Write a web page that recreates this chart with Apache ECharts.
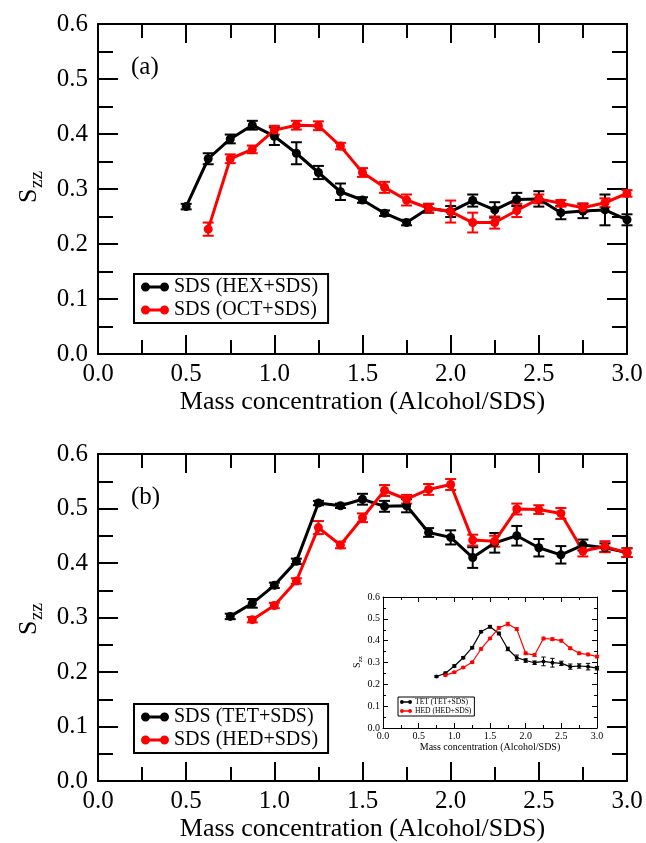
<!DOCTYPE html>
<html>
<head>
<meta charset="utf-8">
<script src="https://cdn.jsdelivr.net/npm/echarts@6/dist/echarts.min.js"></script>
<style>
html,body{margin:0;padding:0;background:#fff;}
#c{width:646px;height:843px;}
</style>
</head>
<body>
<div id="c"></div>
<script>
// ---------- axis ranges / ticks ----------
const X_MIN = 0, X_MAX = 3, X_STEP = 0.5;
const Y_MIN = 0, Y_MAX = 0.6, Y_STEP = 0.1;
const xTitle = 'Mass concentration (Alcohol/SDS)';

// ---------- panel (a) ----------
const xHex = [0.5,0.625,0.75,0.875,1.0,1.125,1.25,1.375,1.5,1.625,1.75,1.875,2.0,2.125,2.25,2.375,2.5,2.625,2.75,2.875,3.0];
const yHex = [0.268,0.355,0.391,0.416,0.396,0.365,0.330,0.295,0.280,0.256,0.239,0.265,0.259,0.279,0.262,0.281,0.282,0.257,0.260,0.262,0.244];
const eHex = [0.005,0.010,0.008,0.008,0.016,0.020,0.012,0.015,0.005,0.005,0.005,0.008,0.010,0.011,0.014,0.012,0.014,0.012,0.013,0.028,0.010];

const xOct = [0.625,0.75,0.875,1.0,1.125,1.25,1.375,1.5,1.625,1.75,1.875,2.0,2.125,2.25,2.375,2.5,2.625,2.75,2.875,3.0];
const yOct = [0.227,0.355,0.372,0.407,0.416,0.415,0.378,0.330,0.303,0.280,0.265,0.259,0.239,0.239,0.261,0.282,0.274,0.266,0.275,0.292];
const eOct = [0.012,0.008,0.007,0.008,0.008,0.008,0.006,0.008,0.010,0.010,0.008,0.020,0.018,0.011,0.012,0.008,0.006,0.008,0.008,0.006];

// ---------- panel (b) ----------
const xTet = [0.75,0.875,1.0,1.125,1.25,1.375,1.5,1.625,1.75,1.875,2.0,2.125,2.25,2.375,2.5,2.625,2.75,2.875,3.0];
const yTet = [0.302,0.326,0.359,0.403,0.510,0.505,0.517,0.504,0.505,0.456,0.447,0.410,0.437,0.450,0.428,0.415,0.433,0.428,0.419];
const eTet = [0.005,0.008,0.005,0.005,0.004,0.004,0.010,0.010,0.012,0.008,0.013,0.019,0.018,0.018,0.016,0.016,0.010,0.008,0.008];

const xHed = [0.875,1.0,1.125,1.25,1.375,1.5,1.625,1.75,1.875,2.0,2.125,2.25,2.375,2.5,2.625,2.75,2.875,3.0];
const yHed = [0.296,0.322,0.367,0.465,0.433,0.483,0.533,0.517,0.535,0.544,0.442,0.440,0.499,0.498,0.491,0.422,0.430,0.419];
const eHed = [0.005,0.005,0.005,0.012,0.006,0.008,0.010,0.008,0.010,0.010,0.010,0.010,0.010,0.008,0.010,0.010,0.010,0.008];

// ---------- inset ----------
const xTetIn = [0.75,0.875,1.0,1.125,1.25,1.375,1.5,1.625,1.75,1.875,2.0,2.125,2.25,2.375,2.5,2.625,2.75,2.875,3.0];
const yTetIn = [0.236,0.251,0.284,0.322,0.368,0.441,0.464,0.433,0.362,0.322,0.309,0.299,0.305,0.299,0.296,0.281,0.284,0.281,0.274];
const eTetIn = [0.004,0.005,0.005,0.005,0.005,0.005,0.006,0.006,0.008,0.012,0.008,0.008,0.020,0.020,0.010,0.012,0.010,0.015,0.008];

const xHedIn = [0.875,1.0,1.125,1.25,1.375,1.5,1.625,1.75,1.875,2.0,2.125,2.25,2.375,2.5,2.625,2.75,2.875,3.0];
const yHedIn = [0.242,0.255,0.277,0.301,0.362,0.410,0.459,0.476,0.453,0.342,0.334,0.410,0.407,0.400,0.365,0.342,0.337,0.327];
const eHedIn = [0.004,0.004,0.004,0.004,0.005,0.005,0.006,0.008,0.006,0.006,0.006,0.006,0.006,0.006,0.006,0.006,0.006,0.006];

// ---------- names ----------
const namesA = ['SDS (HEX+SDS)', 'SDS (OCT+SDS)'];
const namesB = ['SDS (TET+SDS)', 'SDS (HED+SDS)'];
const namesIn = ['TET (TET+SDS)', 'HED (HED+SDS)'];
const BLACK = '#000000', RED = '#ff0000';
const FONT = '"Liberation Serif","Times New Roman",serif';

const pts = (xs, ys) => xs.map((x, i) => [x, ys[i]]);
const errPts = (xs, ys, es) => xs.map((x, i) => [x, ys[i], es[i]]);

function errSeries(xi, xs, ys, es, color, cap, lw) {
  return {
    type: 'custom', xAxisIndex: xi, yAxisIndex: xi, silent: true,
    data: errPts(xs, ys, es), encode: {x: 0, y: 1},
    renderItem: function (params, api) {
      const x = api.value(0), y = api.value(1), e = api.value(2);
      const top = api.coord([x, y + e]), bot = api.coord([x, y - e]);
      const st = {stroke: color, lineWidth: lw};
      return {type: 'group', children: [
        {type: 'line', shape: {x1: top[0], y1: top[1], x2: bot[0], y2: bot[1]}, style: st},
        {type: 'line', shape: {x1: top[0] - cap, y1: top[1], x2: top[0] + cap, y2: top[1]}, style: st},
        {type: 'line', shape: {x1: bot[0] - cap, y1: bot[1], x2: bot[0] + cap, y2: bot[1]}, style: st}
      ]};
    }
  };
}
function lineSeries(name, xi, xs, ys, color, lw, sym) {
  return {
    name: name, type: 'line', xAxisIndex: xi, yAxisIndex: xi,
    data: pts(xs, ys), symbol: 'circle', symbolSize: sym, showSymbol: true,
    lineStyle: {color: color, width: lw}, itemStyle: {color: color},
    emphasis: {disabled: true}
  };
}

function xAxes(gi, big) {
  const common = {
    type: 'value', gridIndex: gi, min: X_MIN, max: X_MAX, interval: X_STEP,
    splitLine: {show: false},
    axisLine: {show: true, onZero: false, lineStyle: {color: '#000', width: big ? 2 : 1}},
    axisTick: {show: true, inside: true, length: big ? 19 : 5, lineStyle: {color: '#000', width: big ? 2 : 1}},
    minorTick: {show: true, splitNumber: 2, length: big ? 14 : 3, lineStyle: {color: '#000', width: big ? 2 : 1}},
  };
  return [
    Object.assign({}, common, {
      position: 'bottom',
      axisLabel: {show: true, fontFamily: FONT, fontSize: big ? 25 : 10, color: '#000', margin: big ? 8 : 3,
        formatter: v => v.toFixed(1)},
      name: xTitle, nameLocation: 'middle', nameGap: big ? 35 : 14,
      nameTextStyle: {fontFamily: FONT, fontSize: big ? 26 : 10, color: '#000'}
    }),
    Object.assign({}, common, {position: 'top', axisLabel: {show: false}})
  ];
}
function yAxes(gi, big) {
  const common = {
    type: 'value', gridIndex: gi, min: Y_MIN, max: Y_MAX, interval: Y_STEP,
    splitLine: {show: false},
    axisLine: {show: true, onZero: false, lineStyle: {color: '#000', width: big ? 2 : 1}},
    axisTick: {show: true, inside: true, length: big ? 20 : 5, lineStyle: {color: '#000', width: big ? 2 : 1}},
    minorTick: {show: true, splitNumber: 2, length: big ? 15 : 3, lineStyle: {color: '#000', width: big ? 2 : 1}},
  };
  return [
    Object.assign({}, common, {
      position: 'left',
      axisLabel: {show: true, fontFamily: FONT, fontSize: big ? 25 : 10, color: '#000', margin: big ? 10 : 3,
        formatter: v => v.toFixed(1)}
    }),
    Object.assign({}, common, {position: 'right', axisLabel: {show: false}})
  ];
}

const ICON = 'path://M0,4.5A4.5,4.5 0 1,1 9,4.5A4.5,4.5 0 1,1 0,4.5ZM4.5,3L23.5,3L23.5,6L4.5,6ZM19,4.5A4.5,4.5 0 1,1 28,4.5A4.5,4.5 0 1,1 19,4.5Z';

function legend(names, left, top, big) {
  return {
    data: names, orient: 'vertical', left: left, top: top,
    icon: ICON, itemWidth: big ? 28 : 12, itemHeight: big ? 9 : 3.9,
    itemGap: big ? 3 : 1, padding: big ? [3, 10, 3, 7] : [1, 3, 1, 2],
    borderColor: '#000', borderWidth: big ? 2 : 1, backgroundColor: '#fff',
    selectedMode: false, z: 10,
    textStyle: {fontFamily: FONT, fontSize: big ? 20 : 7.6, color: '#000', padding: [0, 0, 0, big ? 0 : -2]}
  };
}

function szz(cx, cy, big) {
  const sF = big ? 26 : 10, zF = big ? 19 : 7;
  return {
    type: 'group', x: cx, y: cy, rotation: Math.PI / 2,
    children: [
      {type: 'text', x: big ? -17 : -7, y: 0, style: {text: 'S', font: sF + 'px ' + FONT, fill: '#000', verticalAlign: 'middle', align: 'left'}},
      {type: 'text', x: big ? -2 : -1.3, y: big ? 8 : 3, style: {text: 'zz', font: zF + 'px ' + FONT, fill: '#000', verticalAlign: 'middle', align: 'left'}}
    ]
  };
}

const chart = echarts.init(document.getElementById('c'), null, {renderer: 'canvas'});
chart.setOption({
  animation: false,
  backgroundColor: '#fff',
  grid: [
    {left: 98, top: 24, width: 529, height: 330},
    {left: 98, top: 454, width: 529, height: 330},
    {left: 383, top: 597, width: 214, height: 131, show: true, backgroundColor: '#fff', borderWidth: 0}
  ],
  xAxis: [].concat(xAxes(0, true), xAxes(1, true), xAxes(2, false)),
  yAxis: [].concat(yAxes(0, true), yAxes(1, true), yAxes(2, false)),
  legend: [
    legend(namesA, 134, 274, true),
    legend(namesB, 134, 704, true),
    legend(namesIn, 398, 697, false)
  ],
  graphic: [
    szz(29, 186, true),
    szz(29, 618, true),
    szz(357, 661, false),
    {type: 'text', left: 131, top: 55, style: {text: '(a)', font: '25px ' + FONT, fill: '#000'}},
    {type: 'text', left: 131, top: 485, style: {text: '(b)', font: '25px ' + FONT, fill: '#000'}}
  ],
  series: [
    errSeries(0, xHex, yHex, eHex, BLACK, 5.5, 2),
    lineSeries(namesA[0], 0, xHex, yHex, BLACK, 3, 9),
    errSeries(0, xOct, yOct, eOct, RED, 5.5, 2),
    lineSeries(namesA[1], 0, xOct, yOct, RED, 3, 9),

    errSeries(2, xTet, yTet, eTet, BLACK, 5.5, 2),
    lineSeries(namesB[0], 2, xTet, yTet, BLACK, 3, 9),
    errSeries(2, xHed, yHed, eHed, RED, 5.5, 2),
    lineSeries(namesB[1], 2, xHed, yHed, RED, 3, 9),

    errSeries(4, xTetIn, yTetIn, eTetIn, BLACK, 2.2, 1),
    lineSeries(namesIn[0], 4, xTetIn, yTetIn, BLACK, 1.2, 4),
    errSeries(4, xHedIn, yHedIn, eHedIn, RED, 2.2, 1),
    lineSeries(namesIn[1], 4, xHedIn, yHedIn, RED, 1.2, 4)
  ]
});
</script>
</body>
</html>
